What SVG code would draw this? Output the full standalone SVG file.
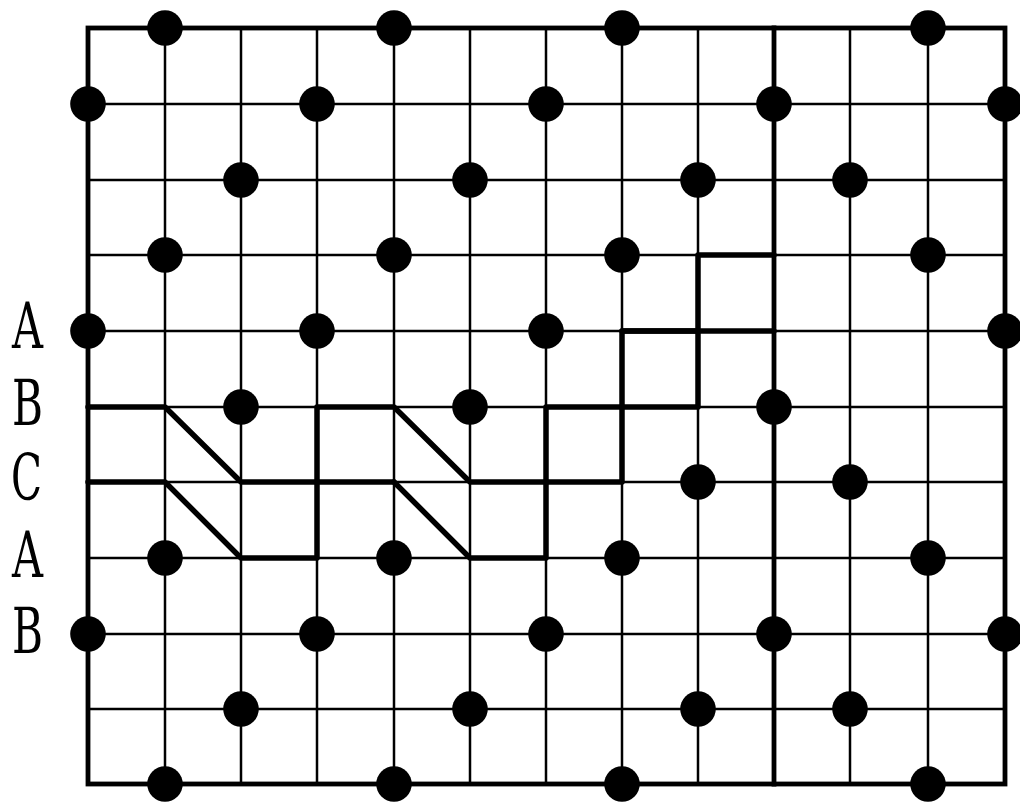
<svg xmlns="http://www.w3.org/2000/svg" xmlns:xlink="http://www.w3.org/1999/xlink" width="1020" height="802" viewBox="0 0 1020 802">
<style>
.grid{stroke:#000;stroke-width:2.5;fill:none}
.border{stroke:#000;stroke-width:4.8;fill:none;stroke-linecap:square}
.route{stroke:#000;stroke-width:5.5;fill:none;stroke-linecap:round;stroke-linejoin:round}
.dot{fill:#000}
</style>
<defs>
<circle id="d" r="17.8" class="dot"/>
</defs>
<rect width="1020" height="802" fill="#fff"/>
<g id="grid" class="grid">
<path d="M165 28V784M241 28V784M317 28V784M394 28V784M470 28V784M546 28V784M622 28V784M698 28V784M850 28V784M928 28V784"/>
<path d="M88 104H1005M88 180H1005M88 255H1005M88 331H1005M88 407H1005M88 482H1005M88 558H1005M88 634H1005M88 709H1005"/>
</g>
<g id="frame" class="border">
<rect x="88" y="28" width="917" height="756"/>
<path d="M774 28V784"/>
</g>
<g id="connectors" class="route">
<path d="M88 407H165L241 482H394"/>
<path d="M88 482H165L241 558H317V407H394L470 482H622V331H698V255H774"/>
<path d="M394 482L470 558H546V407H698V331"/>
<path d="M622 331H774"/>
</g>
<g id="labels" font-family="DejaVu Serif, Liberation Serif, serif" font-size="64" fill="#000">
<text x="12" y="348" textLength="31" lengthAdjust="spacingAndGlyphs">A</text>
<text x="12" y="425" textLength="31" lengthAdjust="spacingAndGlyphs">B</text>
<text x="11" y="500" textLength="31" lengthAdjust="spacingAndGlyphs">C</text>
<text x="12" y="577" textLength="31" lengthAdjust="spacingAndGlyphs">A</text>
<text x="12" y="653" textLength="31" lengthAdjust="spacingAndGlyphs">B</text>
</g>
<g id="dots">
<g id="n0_1"><use xlink:href="#d" x="165" y="28"/></g>
<g id="n0_4"><use xlink:href="#d" x="394" y="28"/></g>
<g id="n0_7"><use xlink:href="#d" x="622" y="28"/></g>
<g id="n0_11"><use xlink:href="#d" x="928" y="28"/></g>
<g id="n1_0"><use xlink:href="#d" x="88" y="104"/></g>
<g id="n1_3"><use xlink:href="#d" x="317" y="104"/></g>
<g id="n1_6"><use xlink:href="#d" x="546" y="104"/></g>
<g id="n1_9"><use xlink:href="#d" x="774" y="104"/></g>
<g id="n1_12"><use xlink:href="#d" x="1005" y="104"/></g>
<g id="n2_2"><use xlink:href="#d" x="241" y="180"/></g>
<g id="n2_5"><use xlink:href="#d" x="470" y="180"/></g>
<g id="n2_8"><use xlink:href="#d" x="698" y="180"/></g>
<g id="n2_10"><use xlink:href="#d" x="850" y="180"/></g>
<g id="n3_1"><use xlink:href="#d" x="165" y="255"/></g>
<g id="n3_4"><use xlink:href="#d" x="394" y="255"/></g>
<g id="n3_7"><use xlink:href="#d" x="622" y="255"/></g>
<g id="n3_11"><use xlink:href="#d" x="928" y="255"/></g>
<g id="n4_0"><use xlink:href="#d" x="88" y="331"/></g>
<g id="n4_3"><use xlink:href="#d" x="317" y="331"/></g>
<g id="n4_6"><use xlink:href="#d" x="546" y="331"/></g>
<g id="n4_12"><use xlink:href="#d" x="1005" y="331"/></g>
<g id="n5_2"><use xlink:href="#d" x="241" y="407"/></g>
<g id="n5_5"><use xlink:href="#d" x="470" y="407"/></g>
<g id="n5_9"><use xlink:href="#d" x="774" y="407"/></g>
<g id="n6_8"><use xlink:href="#d" x="698" y="482"/></g>
<g id="n6_10"><use xlink:href="#d" x="850" y="482"/></g>
<g id="n7_1"><use xlink:href="#d" x="165" y="558"/></g>
<g id="n7_4"><use xlink:href="#d" x="394" y="558"/></g>
<g id="n7_7"><use xlink:href="#d" x="622" y="558"/></g>
<g id="n7_11"><use xlink:href="#d" x="928" y="558"/></g>
<g id="n8_0"><use xlink:href="#d" x="88" y="634"/></g>
<g id="n8_3"><use xlink:href="#d" x="317" y="634"/></g>
<g id="n8_6"><use xlink:href="#d" x="546" y="634"/></g>
<g id="n8_9"><use xlink:href="#d" x="774" y="634"/></g>
<g id="n8_12"><use xlink:href="#d" x="1005" y="634"/></g>
<g id="n9_2"><use xlink:href="#d" x="241" y="709"/></g>
<g id="n9_5"><use xlink:href="#d" x="470" y="709"/></g>
<g id="n9_8"><use xlink:href="#d" x="698" y="709"/></g>
<g id="n9_10"><use xlink:href="#d" x="850" y="709"/></g>
<g id="n10_1"><use xlink:href="#d" x="165" y="784"/></g>
<g id="n10_4"><use xlink:href="#d" x="394" y="784"/></g>
<g id="n10_7"><use xlink:href="#d" x="622" y="784"/></g>
<g id="n10_11"><use xlink:href="#d" x="928" y="784"/></g>
</g>
</svg>
